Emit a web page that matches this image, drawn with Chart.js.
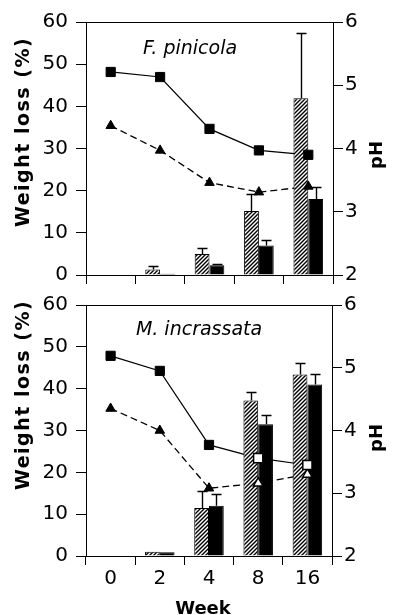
<!DOCTYPE html>
<html>
<head>
<meta charset="utf-8">
<script src="https://cdn.jsdelivr.net/npm/chart.js@4.4.0/dist/chart.umd.min.js"></script>
<style>
  body { margin: 0; background: #fff; }
  #wrap { position: relative; width: 394px; height: 615px; overflow: hidden; }
  canvas { position: absolute; left: 0; }
  #top { top: 0; }
  #bottom { top: 285px; }
</style>
</head>
<body>
<div id="wrap">
  <canvas id="top" width="394" height="295"></canvas>
  <canvas id="bottom" width="394" height="330"></canvas>
</div>
<script>
const weeks = ["0", "2", "4", "8", "16"];
const weightRange = [0, 60];
const phRange = [2, 6];

// F. pinicola
const fpHatched = [0, 1.3, 5.0, 15.2, 41.9];
const fpHatchedErr = [0, 0.9, 1.4, 4.1, 15.4];
const fpBlack = [0, 0.3, 2.3, 7.0, 18.0];
const fpBlackErr = [0, 0, 0.4, 1.2, 2.8];
const fpPhSquare = [5.21, 5.13, 4.31, 3.97, 3.90];
const fpPhTriangle = [4.36, 3.97, 3.46, 3.31, 3.40];

// M. incrassata
const miHatched = [0, 1.0, 11.5, 37.2, 43.4];
const miHatchedErr = [0, 0, 4.0, 2.1, 2.8];
const miBlack = [0, 0.9, 12.0, 31.5, 41.0];
const miBlackErr = [0, 0, 2.9, 2.2, 2.6];
const miPhSquare = [5.19, 4.95, 3.77, 3.56, 3.45];
const miPhTriangle = [4.35, 4.00, 3.08, 3.16, 3.30];

Chart.defaults.font.family = "'DejaVu Sans', sans-serif";
Chart.defaults.font.size = 20;
Chart.defaults.color = "#000";

function makeHatch(ctx) {
  const c = document.createElement("canvas");
  c.width = 4; c.height = 4;
  const g = c.getContext("2d");
  g.fillStyle = "#fff";
  g.fillRect(0, 0, 4, 4);
  g.strokeStyle = "#000";
  g.lineWidth = 1.4;
  g.beginPath();
  g.moveTo(0, 4); g.lineTo(4, 0);
  g.moveTo(-1, 1); g.lineTo(1, -1);
  g.moveTo(3, 5); g.lineTo(5, 3);
  g.stroke();
  return ctx.createPattern(c, "repeat");
}

// upper error bars on bar datasets that carry an "errors" array
const errorBars = {
  id: "errorBars",
  afterDatasetDraw(chart, args) {
    const ds = chart.data.datasets[args.index];
    if (!ds.errors) return;
    const ctx = chart.ctx;
    const y = chart.scales.y;
    ctx.save();
    ctx.strokeStyle = "#000";
    ctx.lineWidth = 1.4;
    args.meta.data.forEach((bar, j) => {
      const e = ds.errors[j];
      if (!e) return;
      const top = Math.round(y.getPixelForValue(ds.data[j] + e)) + 0.5;
      const x = Math.round(bar.x) + 0.5;
      ctx.beginPath();
      ctx.moveTo(x, bar.y);
      ctx.lineTo(x, top);
      ctx.moveTo(x - 5, top);
      ctx.lineTo(x + 5, top);
      ctx.stroke();
    });
    ctx.restore();
  }
};

function textPlugin(items) {
  return {
    id: "texts",
    beforeDatasetsDraw(chart) {
      const a = chart.chartArea;
      const ctx = chart.ctx;
      ctx.save();
      ctx.strokeStyle = "#000";
      ctx.lineWidth = 1;
      ctx.beginPath();
      ctx.moveTo(a.left, Math.round(a.top) + 0.5);
      ctx.lineTo(a.right, Math.round(a.top) + 0.5);
      ctx.stroke();
      ctx.restore();
    },
    afterDraw(chart) {
      const ctx = chart.ctx;
      items.forEach(t => {
        ctx.save();
        ctx.fillStyle = "#000";
        ctx.font = t.font;
        if ("letterSpacing" in ctx) ctx.letterSpacing = (t.spacing || 0) + "px";
        ctx.textAlign = "center";
        ctx.textBaseline = "alphabetic";
        ctx.translate(t.x, t.y);
        if (t.rotate) ctx.rotate(-Math.PI / 2);
        ctx.fillText(t.text, 0, 0);
        ctx.restore();
      });
    }
  };
}

function buildChart(id, opt) {
  const canvas = document.getElementById(id);
  const ctx = canvas.getContext("2d");
  const hatch = makeHatch(ctx);
  const markerFill = opt.open.map(o => (o ? "#fff" : "#000"));
  const markerBorder = opt.open.map(o => (o ? 1.5 : 1));

  return new Chart(ctx, {
    type: "bar",
    data: {
      labels: weeks,
      datasets: [
        { type: "line", data: opt.phSquare, yAxisID: "y2", borderColor: "#000", borderWidth: 1.2,
          pointRadius: 0, tension: 0, order: 3 },
        { type: "line", data: opt.phTriangle, yAxisID: "y2", borderColor: "#000", borderWidth: 1.3,
          borderDash: [7, 4], pointRadius: 0, tension: 0, order: 3 },
        { data: opt.hatched, errors: opt.hatchedErr, yAxisID: "y", backgroundColor: hatch,
          borderColor: "#000", borderWidth: 1, order: 2 },
        { data: opt.black, errors: opt.blackErr, yAxisID: "y", backgroundColor: "#000",
          borderColor: "#000", borderWidth: 1, order: 2 },
        { type: "line", data: opt.phSquare, yAxisID: "y2", showLine: false, pointStyle: "rect",
          pointRadius: 6.5, pointBackgroundColor: markerFill, pointBorderColor: "#000",
          pointBorderWidth: markerBorder, order: 1 },
        { type: "line", data: opt.phTriangle, yAxisID: "y2", showLine: false, pointStyle: "triangle",
          pointRadius: 5.5, pointBackgroundColor: markerFill, pointBorderColor: "#000",
          pointBorderWidth: markerBorder, order: 1 }
      ]
    },
    options: {
      responsive: false,
      animation: false,
      events: [],
      categoryPercentage: 0.6,
      barPercentage: 1.0,
      layout: { padding: { top: opt.padTop, left: 0, right: 0, bottom: 0 } },
      plugins: { legend: { display: false }, tooltip: { enabled: false } },
      scales: {
        x: {
          grid: { offset: true, drawOnChartArea: false, tickLength: 9, tickColor: "#000", tickWidth: 1 },
          border: { color: "#000", width: 1 },
          ticks: { display: opt.showX, padding: 2, font: { size: 20 } },
          afterFit: s => { s.height = opt.xHeight; }
        },
        y: {
          position: "left",
          min: weightRange[0], max: weightRange[1],
          grid: { drawOnChartArea: false, tickLength: 10, tickColor: "#000", tickWidth: 1 },
          border: { color: "#000", width: 1 },
          ticks: { stepSize: 10, padding: 8 },
          afterFit: s => { s.width = 86; }
        },
        y2: {
          position: "right",
          min: phRange[0], max: phRange[1],
          grid: { drawOnChartArea: false, tickLength: 10, tickColor: "#000", tickWidth: 1 },
          border: { color: "#000", width: 1 },
          ticks: { stepSize: 1, padding: 2 },
          afterFit: s => { s.width = opt.rightWidth; }
        }
      }
    },
    plugins: [errorBars, textPlugin(opt.texts)]
  });
}

buildChart("top", {
  hatched: fpHatched, hatchedErr: fpHatchedErr, black: fpBlack, blackErr: fpBlackErr,
  phSquare: fpPhSquare, phTriangle: fpPhTriangle,
  open: [false, false, false, false, false],
  padTop: 22, xHeight: 16, rightWidth: 61, showX: false,
  texts: [
    { text: "F. pinicola", x: 190, y: 54, font: "italic 19px 'DejaVu Sans'" },
    { text: "Weight loss (%)", x: 29, y: 132, rotate: true, font: "bold 19px 'DejaVu Sans'", spacing: 1.5 },
    { text: "pH", x: 382, y: 155, rotate: true, font: "bold 18px 'DejaVu Sans'" }
  ]
});

buildChart("bottom", {
  hatched: miHatched, hatchedErr: miHatchedErr, black: miBlack, blackErr: miBlackErr,
  phSquare: miPhSquare, phTriangle: miPhTriangle,
  open: [false, false, false, true, true],
  padTop: 15, xHeight: 59, rightWidth: 62, showX: true,
  texts: [
    { text: "M. incrassata", x: 199, y: 50, font: "italic 19px 'DejaVu Sans'" },
    { text: "Weight loss (%)", x: 29, y: 110, rotate: true, font: "bold 19px 'DejaVu Sans'", spacing: 1.5 },
    { text: "pH", x: 382, y: 153, rotate: true, font: "bold 18px 'DejaVu Sans'" },
    { text: "Week", x: 203, y: 329, font: "bold 18px 'DejaVu Sans'" }
  ]
});
</script>
</body>
</html>
